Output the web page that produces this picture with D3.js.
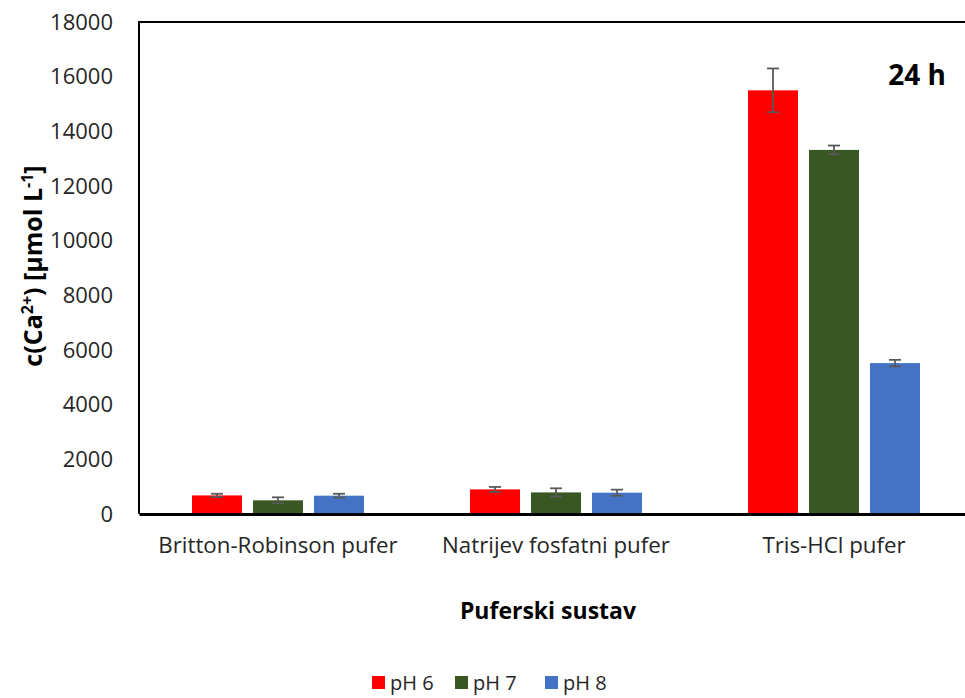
<!DOCTYPE html>
<html>
<head>
<meta charset="utf-8">
<script src="https://cdn.jsdelivr.net/npm/d3@7"></script>
<style>
  body { margin: 0; background: #fff; }
  svg { display: block; font-family: "Open Sans", Lato, sans-serif; }
</style>
</head>
<body>
<svg id="chart"></svg>
<script>
// chart data
const categories = ['Britton-Robinson pufer', 'Natrijev fosfatni pufer', 'Tris-HCl pufer'];
const seriesNames = ['pH 6', 'pH 7', 'pH 8'];
const ph6 = [680, 900, 15500];
const ph7 = [500, 790, 13320];
const ph8 = [670, 780, 5520];
const ph6Err = [60, 90, 800];
const ph7Err = [110, 150, 160];
const ph8Err = [70, 110, 120];
const yTicks = [0, 2000, 4000, 6000, 8000, 10000, 12000, 14000, 16000, 18000];

const colors = ['#ff0000', '#385723', '#4472c4'];

const width = 965, height = 698;
const margin = { top: 22, right: -8, bottom: 184, left: 139 };
const innerWidth = width - margin.left - margin.right;
const innerHeight = height - margin.top - margin.bottom;

const svg = d3.select('#chart')
  .attr('width', width)
  .attr('height', height);

const g = svg.append('g')
  .attr('transform', `translate(${margin.left},${margin.top})`);

// scales
const x0 = d3.scaleBand()
  .domain(categories)
  .range([0, innerWidth])
  .paddingInner(0)
  .paddingOuter(0);

const x1 = d3.scaleBand()
  .domain(seriesNames)
  .range([53, x0.bandwidth() - 53])
  .paddingInner(0.18);

const y = d3.scaleLinear()
  .domain([0, 18000])
  .range([innerHeight, 0]);

// rows for bars
const rows = [];
categories.forEach((c, i) => {
  [ph6, ph7, ph8].forEach((s, j) => {
    const err = [ph6Err, ph7Err, ph8Err][j][i];
    rows.push({ cat: c, series: seriesNames[j], value: s[i], err: err, color: colors[j] });
  });
});

// plot frame (left + top)
g.append('path')
  .attr('d', `M0,${innerHeight}V0H${innerWidth}`)
  .attr('fill', 'none')
  .attr('stroke', '#000')
  .attr('stroke-width', 2);

// bars
g.selectAll('.bar')
  .data(rows)
  .enter()
  .append('rect')
    .attr('x', d => x0(d.cat) + x1(d.series))
    .attr('y', d => y(d.value))
    .attr('width', x1.bandwidth())
    .attr('height', d => innerHeight - y(d.value))
    .attr('fill', d => d.color);

// error bars
const eb = g.selectAll('.err')
  .data(rows)
  .enter()
  .append('g')
    .attr('transform', d => `translate(${x0(d.cat) + x1(d.series) + x1.bandwidth() / 2},0)`)
    .attr('stroke', '#595959')
    .attr('stroke-width', 1.8);

eb.append('line')
  .attr('y1', d => y(d.value - d.err))
  .attr('y2', d => y(d.value + d.err));
eb.append('line')
  .attr('x1', -6).attr('x2', 6)
  .attr('y1', d => y(d.value + d.err))
  .attr('y2', d => y(d.value + d.err));
eb.append('line')
  .attr('x1', -6).attr('x2', 6)
  .attr('y1', d => y(d.value - d.err))
  .attr('y2', d => y(d.value - d.err));

// y axis labels
const yAxis = g.append('g')
  .call(d3.axisLeft(y).tickValues(yTicks).tickSize(0).tickPadding(26).tickFormat(d3.format('d')));
yAxis.select('.domain').remove();
yAxis.selectAll('text')
  .style('font-family', '"Open Sans", sans-serif')
  .style('font-size', '22px')
  .attr('fill', '#262626');

// x axis
const xAxis = g.append('g')
  .attr('transform', `translate(0,${innerHeight})`)
  .call(d3.axisBottom(x0).tickSize(0).tickPadding(23));
xAxis.select('.domain')
  .attr('stroke', '#000')
  .attr('stroke-width', 3);
xAxis.selectAll('text')
  .style('font-family', '"Open Sans", sans-serif')
  .style('font-size', '22.3px')
  .attr('fill', '#262626');

// axis titles
svg.append('text')
  .attr('x', 548)
  .attr('y', 619)
  .attr('text-anchor', 'middle')
  .style('font-size', '23px')
  .style('font-weight', 'bold')
  .attr('fill', '#000')
  .text('Puferski sustav');

const yTitle = svg.append('text')
  .attr('transform', `translate(42,${266}) rotate(-90)`)
  .attr('text-anchor', 'middle')
  .style('font-size', '25px')
  .style('font-weight', 'bold')
  .attr('fill', '#000');
yTitle.append('tspan').text('c(Ca');
yTitle.append('tspan').attr('dy', -9).style('font-size', '16px').text('2+');
yTitle.append('tspan').attr('dy', 9).text(') [µmol L');
yTitle.append('tspan').attr('dy', -9).style('font-size', '16px').text('-1');
yTitle.append('tspan').attr('dy', 9).text(']');

// annotation
svg.append('text')
  .attr('x', 946)
  .attr('y', 85)
  .attr('text-anchor', 'end')
  .style('font-size', '28px')
  .style('font-weight', 'bold')
  .attr('fill', '#000')
  .text('24 h');

// legend
const legendX = [372, 455, 545];
const legend = svg.selectAll('.legend')
  .data(seriesNames)
  .enter()
  .append('g')
    .attr('transform', (d, i) => `translate(${legendX[i]},${676})`);
legend.append('rect')
  .attr('width', 13)
  .attr('height', 13)
  .attr('fill', (d, i) => colors[i]);
legend.append('text')
  .attr('x', 18)
  .attr('y', 14)
  .style('font-size', '20px')
  .attr('fill', '#262626')
  .text(d => d);
</script>
</body>
</html>
